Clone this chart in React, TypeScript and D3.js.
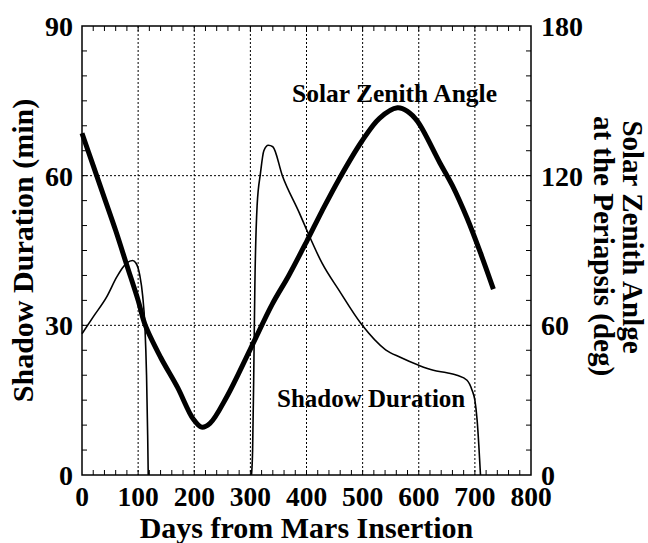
import React, { useEffect, useRef } from "react";
import * as d3 from "d3";

// solar zenith angle at periapsis (deg) vs days from MOI
const szaDays = [0, 20, 40, 60, 80, 100, 112, 140, 170, 198, 213, 228, 258, 300, 339, 368, 400, 428, 458, 498, 530, 562, 580, 598, 637, 660, 686, 710, 733];
const szaDeg = [137, 124, 111, 98, 84, 70, 60.5, 47.2, 35.2, 22.5, 19.2, 20.7, 31.4, 50.5, 68.5, 79.8, 93.5, 106, 118.6, 133.6, 143, 147.2, 145.8, 141.7, 125.4, 116, 103, 89, 74.5];

// shadow duration (min), first eclipse season
const shadow1Days = [0, 20, 44, 62, 72, 80, 90, 96, 103, 108, 112, 115, 117, 118];
const shadow1Min = [28.3, 31.7, 35.7, 39.7, 41.5, 42.5, 43, 42.5, 40, 36, 30, 20, 8, 0];

// second eclipse season
const shadow2Days = [302, 304, 306, 308, 312, 318, 324, 332, 340, 357, 387, 400, 428, 458, 498, 541, 567, 600, 626, 650, 668, 686, 695, 700, 704, 707, 709, 710];
const shadow2Min = [0, 5, 20, 38, 54, 60.5, 65, 66.1, 65.8, 60, 52.6, 49.2, 42.4, 37, 30.2, 25.1, 23.6, 22, 21, 20.5, 20, 19, 17, 15, 11, 6, 2, 0];

const xTicks = [0, 100, 200, 300, 400, 500, 600, 700, 800];
const leftTicks = [0, 30, 60, 90];
const rightTicks = [0, 60, 120, 180];

const App = () => {
  const svgRef = useRef<SVGSVGElement>(null);

  useEffect(() => {
    const width = 648;
    const height = 543;
    const m = { left: 82, right: 531, top: 26, bottom: 475 };
    const font = "'Liberation Serif', 'Times New Roman', serif";

    const x = d3.scaleLinear().domain([0, 800]).range([m.left, m.right]);
    const yL = d3.scaleLinear().domain([0, 90]).range([m.bottom, m.top]);
    const yR = d3.scaleLinear().domain([0, 180]).range([m.bottom, m.top]);

    const svg = d3.select(svgRef.current)
      .attr("width", width)
      .attr("height", height);

    svg.selectAll("*").remove();

    svg.append("rect")
      .attr("width", width)
      .attr("height", height)
      .attr("fill", "#fff");

    // dotted grid
    const grid = svg.append("g")
      .attr("stroke", "#000")
      .attr("stroke-width", 1)
      .attr("stroke-dasharray", "2,2");
    xTicks.slice(1, -1).forEach(d => {
      grid.append("line")
        .attr("x1", x(d)).attr("x2", x(d))
        .attr("y1", m.top).attr("y2", m.bottom);
    });
    [30, 60].forEach(d => {
      grid.append("line")
        .attr("x1", m.left).attr("x2", m.right)
        .attr("y1", yL(d)).attr("y2", yL(d));
    });

    // inward minor ticks
    const ticks = svg.append("g").attr("stroke", "#000").attr("stroke-width", 1);
    d3.range(20, 800, 20).forEach(d => {
      ticks.append("line").attr("x1", x(d)).attr("x2", x(d)).attr("y1", m.bottom).attr("y2", m.bottom - 5);
      ticks.append("line").attr("x1", x(d)).attr("x2", x(d)).attr("y1", m.top).attr("y2", m.top + 5);
    });
    d3.range(5, 90, 5).forEach(d => {
      ticks.append("line").attr("x1", m.left).attr("x2", m.left + 5).attr("y1", yL(d)).attr("y2", yL(d));
    });
    d3.range(10, 180, 10).forEach(d => {
      ticks.append("line").attr("x1", m.right).attr("x2", m.right - 5).attr("y1", yR(d)).attr("y2", yR(d));
    });

    svg.append("rect")
      .attr("x", m.left)
      .attr("y", m.top)
      .attr("width", m.right - m.left)
      .attr("height", m.bottom - m.top)
      .attr("fill", "none")
      .attr("stroke", "#000")
      .attr("stroke-width", 1.5);

    // curves
    const drawShadow = (days: number[], vals: number[]) => {
      svg.append("path")
        .datum(days.map((d, i) => [x(d), yL(vals[i])] as [number, number]))
        .attr("fill", "none")
        .attr("stroke", "#000")
        .attr("stroke-width", 1.6)
        .attr("d", d3.line().curve(d3.curveMonotoneX));
    };
    drawShadow(shadow1Days, shadow1Min);
    drawShadow(shadow2Days, shadow2Min);

    svg.append("path")
      .datum(szaDays.map((d, i) => [x(d), yR(szaDeg[i])] as [number, number]))
      .attr("fill", "none")
      .attr("stroke", "#000")
      .attr("stroke-width", 5)
      .attr("stroke-linejoin", "round")
      .attr("d", d3.line().curve(d3.curveCatmullRom));

    // tick labels
    const txt = svg.append("g")
      .attr("font-family", font)
      .attr("font-weight", "bold")
      .attr("fill", "#000");

    xTicks.forEach(d => {
      txt.append("text")
        .attr("x", x(d)).attr("y", 506)
        .attr("text-anchor", "middle")
        .attr("font-size", 27.5)
        .text(d);
    });
    leftTicks.forEach(d => {
      txt.append("text")
        .attr("x", m.left - 9).attr("y", yL(d) + 10)
        .attr("text-anchor", "end")
        .attr("font-size", 28)
        .text(d);
    });
    rightTicks.forEach(d => {
      txt.append("text")
        .attr("x", m.right + 10).attr("y", yR(d) + 10)
        .attr("text-anchor", "start")
        .attr("font-size", 28)
        .text(d);
    });

    // axis titles
    txt.append("text")
      .attr("x", (m.left + m.right) / 2).attr("y", 538)
      .attr("text-anchor", "middle")
      .attr("font-size", 30)
      .text("Days from Mars Insertion");

    txt.append("text")
      .attr("transform", `translate(33,${(m.top + m.bottom) / 2}) rotate(-90)`)
      .attr("text-anchor", "middle")
      .attr("font-size", 30)
      .text("Shadow Duration (min)");

    txt.append("text")
      .attr("transform", `translate(623,237) rotate(90)`)
      .attr("text-anchor", "middle")
      .attr("font-size", 29)
      .text("Solar Zenith Anlge");
    txt.append("text")
      .attr("transform", `translate(594,246) rotate(90)`)
      .attr("text-anchor", "middle")
      .attr("font-size", 29)
      .text("at the Periapsis (deg)");

    // in-plot labels
    txt.append("text")
      .attr("x", 292).attr("y", 102)
      .attr("font-size", 25.5)
      .text("Solar Zenith Angle");
    txt.append("text")
      .attr("x", 277).attr("y", 407)
      .attr("font-size", 25)
      .text("Shadow Duration");
  }, []);

  return <svg ref={svgRef} style={{ position: "absolute", left: 0, top: 0 }}></svg>;
};

export default App;
